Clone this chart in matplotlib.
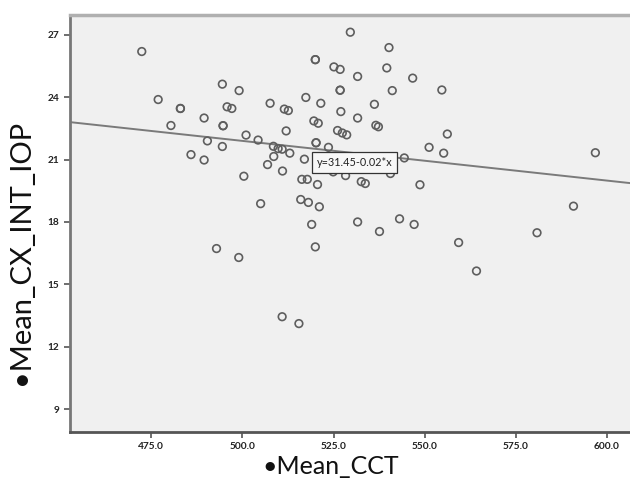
import numpy as np
import matplotlib
matplotlib.use("Agg")
import matplotlib.pyplot as plt

# values
cct = [472.4, 494.5, 499.1, 476.9, 483.0, 483.0, 495.8, 497.1, 489.5, 480.4,
       494.7, 494.7, 501.0, 504.3, 490.4, 494.5, 485.9, 489.5, 500.4, 529.6,
       540.2, 520.0, 520.0, 525.1, 526.8, 539.6, 531.6, 546.7, 526.8, 526.8,
       541.1, 554.7, 517.4, 507.6, 521.5, 511.5, 512.6, 536.2, 527.0, 531.6,
       519.6, 520.8, 536.6, 537.3, 512.0, 526.1, 527.4, 528.6, 556.2, 520.2,
       520.2, 523.6, 551.2, 508.5, 509.8, 510.9, 513.0, 555.2, 508.6, 517.0,
       544.4, 506.9, 511.0, 524.9, 528.3, 540.6, 516.3, 517.8, 520.6, 532.6,
       533.7, 548.7, 505.0, 516.0, 518.1, 521.1, 519.0, 531.6, 537.6, 543.1,
       547.1, 520.0, 510.9, 515.5, 492.9, 499.0, 596.8, 590.8, 580.8, 559.3,
       564.2]
iop = [26.20, 24.63, 24.32, 23.89, 23.46, 23.46, 23.54, 23.46, 23.00, 22.64,
       22.63, 22.63, 22.18, 21.94, 21.90, 21.63, 21.24, 20.98, 20.20, 27.13,
       26.39, 25.81, 25.81, 25.46, 25.34, 25.41, 25.00, 24.92, 24.34, 24.34,
       24.32, 24.35, 23.99, 23.71, 23.71, 23.43, 23.36, 23.66, 23.31, 23.00,
       22.86, 22.75, 22.65, 22.58, 22.38, 22.40, 22.28, 22.19, 22.23, 21.81,
       21.81, 21.59, 21.59, 21.64, 21.53, 21.50, 21.31, 21.31, 21.15, 21.02,
       21.08, 20.76, 20.45, 20.41, 20.23, 20.33, 20.05, 20.05, 19.80, 19.94,
       19.85, 19.79, 18.88, 19.08, 18.94, 18.73, 17.88, 18.00, 17.54, 18.15,
       17.88, 16.80, 13.44, 13.11, 16.72, 16.29, 21.33, 18.76, 17.48, 17.01,
       15.64]

fit_intercept = 31.45
fit_slope = -0.0191
fit_label = "y=31.45-0.02*x"

x_ticks = [475, 500, 525, 550, 575, 600]
y_ticks = [9, 12, 15, 18, 21, 24, 27]

plt.rcParams['font.family'] = ['Lato', 'DejaVu Sans']

fig = plt.figure(figsize=(6.3, 4.82), dpi=100)
ax = fig.add_axes([0.111, 0.104, 0.889, 0.865])
ax.set_facecolor('#f0f0f0')

ax.scatter(cct, iop, s=30, facecolors='none', edgecolors='#5e5e5e',
           linewidths=1.2, zorder=3)

xl = np.array([452.7, 606.3])
ax.plot(xl, fit_intercept + fit_slope * xl, color='#7a7a7a', lw=1.4, zorder=2)

ax.text(530.7, 20.85, fit_label, fontsize=7.8, ha='center', va='center',
        color='#222222', zorder=5,
        bbox=dict(boxstyle='square,pad=0.45', facecolor='#f7f7f7',
                  edgecolor='#333333', lw=0.9))

ax.set_xlim(452.7, 606.3)
ax.set_ylim(7.9, 27.96)
ax.set_xticks(x_ticks)
ax.set_xticklabels([f"{v:.1f}" for v in x_ticks])
ax.set_yticks(y_ticks)
ax.tick_params(direction='out', length=4, width=1.2, color='#555555',
               labelsize=7.3, labelcolor='#222222')
for lab in ax.get_xticklabels() + ax.get_yticklabels():
    lab.set_fontweight('bold')

ax.spines['right'].set_visible(False)
ax.spines['top'].set_color('#b0b0b0')
ax.spines['top'].set_linewidth(2.5)
ax.spines['left'].set_color('#777777')
ax.spines['left'].set_linewidth(2)
ax.spines['bottom'].set_color('#555555')
ax.spines['bottom'].set_linewidth(2)

fig.text(0.033, 1 - 252 / 482, "\u2022Mean_CX_INT_IOP", rotation=90,
         ha='center', va='center', fontsize=21, color='#111111')
fig.text(331 / 630, 1 - 466 / 482, "\u2022Mean_CCT", ha='center',
         va='center', fontsize=18, color='#111111')

fig.savefig('out.png', dpi=100)
